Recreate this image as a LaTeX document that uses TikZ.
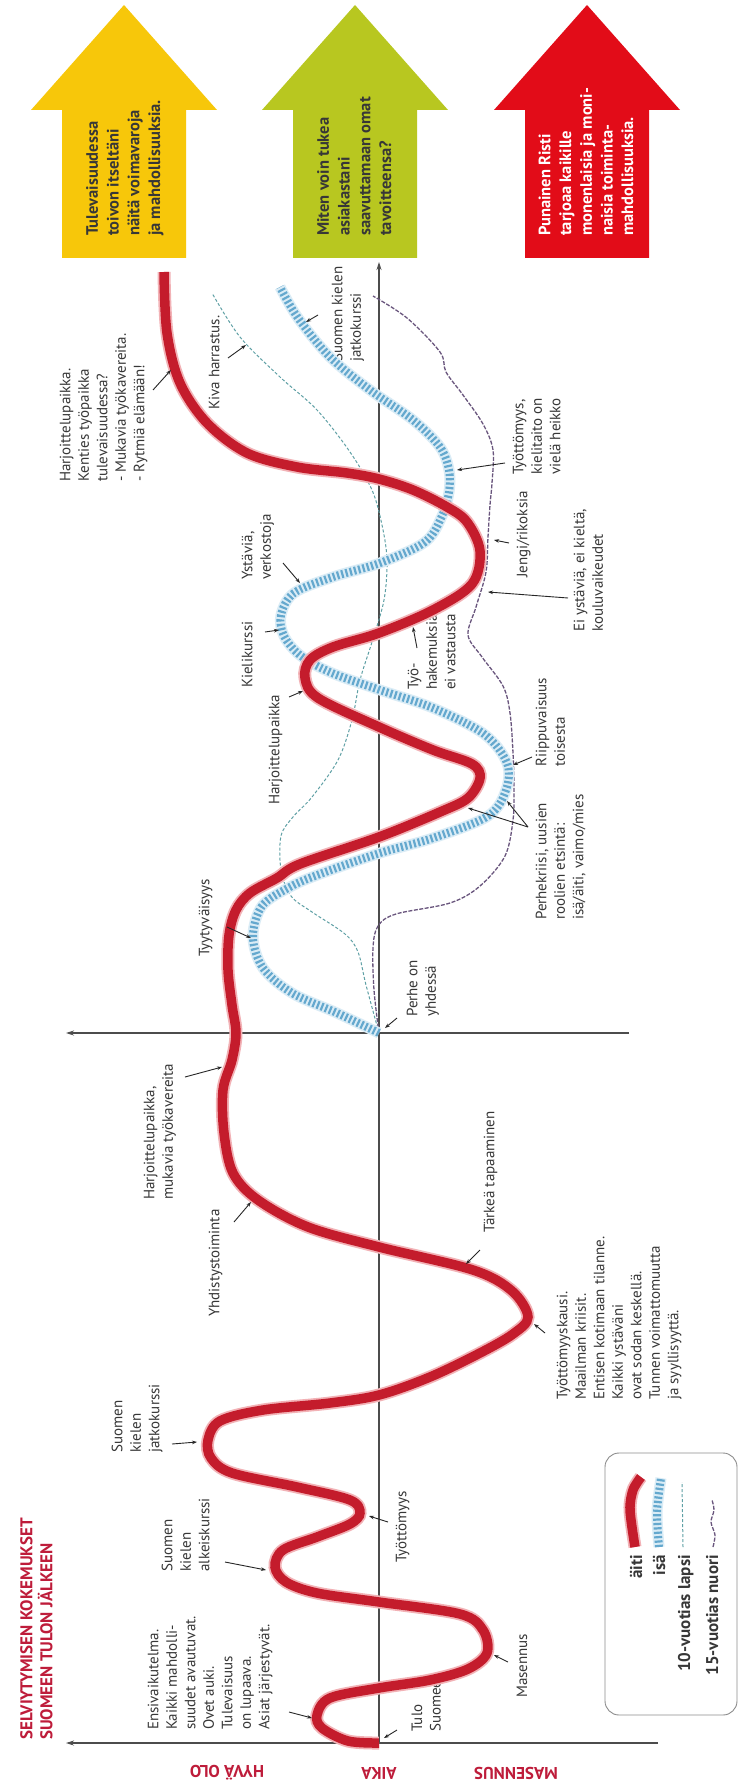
\documentclass[tikz,border=0pt]{standalone}
\usepackage{fontspec}
\setmainfont{PT Sans}
\usetikzlibrary{arrows.meta,calc}
\definecolor{curvered}{RGB}{196,28,44}
\definecolor{halored}{RGB}{242,178,182}
\definecolor{isablue}{RGB}{100,168,206}
\definecolor{halob}{RGB}{218,236,246}
\definecolor{teal10}{RGB}{95,160,165}
\definecolor{purp15}{RGB}{105,85,125}
\definecolor{arryellow}{RGB}{247,199,10}
\definecolor{arrgreen}{RGB}{184,199,32}
\definecolor{arrred}{RGB}{226,12,24}
\definecolor{crimson}{RGB}{190,28,58}
\definecolor{txt}{RGB}{55,55,55}
\newcommand\pointer[5]{\coordinate (#1s) at (#2,#3); \coordinate (#1e) at (#4,#5); \draw[ptr] (#1s) -- (#1e);}
\begin{document}
\begin{tikzpicture}[x=1pt,y=-1pt,
  lbl/.style={rotate=90,anchor=north west,align=left,inner sep=0pt,font=\fontsize{15}{18.5}\selectfont,text=txt},
  arrtxt/.style={rotate=90,anchor=north west,align=left,inner sep=0pt,font=\fontsize{16.5}{20.7}\selectfont\bfseries,text=txt},
  titletxt/.style={rotate=90,anchor=north west,align=left,inner sep=0pt,font=\fontsize{17}{20}\selectfont\bfseries,text=crimson},
  legtxt/.style={rotate=90,anchor=base east,inner sep=0pt,font=\fontsize{17}{20}\selectfont\bfseries,text=txt},
  axlbl/.style={rotate=180,anchor=center,inner sep=0pt,font=\fontsize{17}{20}\selectfont\bfseries,text=crimson},
  ptr/.style={-{Stealth[length=5pt,width=3.6pt]},line width=0.9pt,black!85},
  axline/.style={line width=1.1pt,black!70},
  axarrow/.style={axline,-{Stealth[length=8pt,width=5pt]}},
  mom/.style={line width=9.5pt,curvered,preaction={draw,halored,line width=13pt}},
  dad/.style={line width=8pt,isablue,dash pattern=on 2.2pt off 2.2pt,preaction={draw,halob,solid,line width=11pt}},
  kid/.style={line width=1pt,teal10,dash pattern=on 3pt off 2pt},
  teen/.style={line width=1.3pt,purp15,dash pattern=on 4pt off 1.5pt}
]
\useasboundingbox (0,0) rectangle (742,1784);
\fill[white] (0,0) rectangle (742,1784);

% big arrows
\fill[arryellow] (62,258) -- (62,110) -- (31,110) -- (124,5) -- (217,110) -- (186,110) -- (186,258) -- cycle;
\fill[arrgreen] (293,258) -- (293,110) -- (262,110) -- (355,5) -- (448,110) -- (417,110) -- (417,258) -- cycle;
\fill[arrred] (525,258) -- (525,110) -- (494,110) -- (587,5) -- (680,110) -- (649,110) -- (649,258) -- cycle;
\node[arrtxt] (ty) at (86,236) {Tulevaisuudessa\\toivon itseltäni\\näitä voimavaroja\\ja mahdollisuuksia.};
\node[arrtxt] (tg) at (317,236) {Miten voin tukea\\asiakastani\\saavuttamaan omat\\tavoitteensa?};
\node[arrtxt,text=white] (tr) at (538.5,236) {Punainen Risti\\tarjoaa kaikille\\monenlaisia ja moni-\\naisia toiminta-\\mahdollisuuksia.};

% title and axis labels
\node[titletxt] (title) at (20,1740) {SELVIYTYMISEN KOKEMUKSET\\SUOMEEN TULON JÄLKEEN};
\node[axlbl] (hyva) at (227,1773) {HYVÄ OLO};
\node[axlbl] (aika) at (379,1773) {AIKA};
\node[axlbl] (masl) at (516,1773) {MASENNUS};

% labels
\node[lbl] (tulo) at (411.5,1732) {Tulo\\Suomeen};
\node[lbl] (ensi) at (147.5,1730) {Ensivaikutelma.\\Kaikki mahdolli-\\suudet avautuvat.\\Ovet auki.\\Tulevaisuus\\on lupaava.\\Asiat järjestyvät.};
\node[lbl] (mas) at (516.5,1698) {Masennus};
\node[lbl] (alke) at (161.5,1572) {Suomen\\kielen\\alkeiskurssi};
\node[lbl] (tyot1) at (395.5,1563) {Työttömyys};
\node[lbl] (jatko1) at (111.5,1453) {Suomen\\kielen\\jatkokurssi};
\node[lbl] (kausi) at (556.5,1400) {Työttömyyskausi.\\Maailman kriisit.\\Entisen kotimaan tilanne.\\Kaikki ystäväni\\ovat sodan keskellä.\\Tunnen voimattomuutta\\ja syyllisyyttä.};
\node[lbl] (tark) at (483.5,1233) {Tärkeä tapaaminen};
\node[lbl] (yhd) at (208.5,1317) {Yhdistystoiminta};
\node[lbl] (harj1) at (143.5,1200) {Harjoittelupaikka,\\mukavia työkavereita};
\node[lbl] (perhe) at (406.5,1017) {Perhe on\\yhdessä};
\node[lbl] (tyyt) at (198.5,957) {Tyytyväisyys};
\node[lbl] (perhek) at (535.5,920) {Perhekriisi, uusien\\roolien etsintä:\\isä/äiti, vaimo/mies};
\node[lbl] (harj2) at (268.5,805) {Harjoittelupaikka};
\node[lbl] (riip) at (535.5,767) {Riippuvaisuus\\toisesta};
\node[lbl] (tyoh) at (407.5,690) {Työ-\\hakemuksia\\ei vastausta};
\node[lbl] (kieli) at (241.5,688) {Kielikurssi};
\node[lbl] (eiyst) at (573.5,632) {Ei ystäviä, ei kieltä,\\kouluvaikeudet};
\node[lbl] (ystav) at (241.5,580) {Ystäviä,\\verkostoja};
\node[lbl] (jengi) at (516.5,578) {Jengi/rikoksia};
\node[lbl] (tyot2) at (512.5,475) {Työttömyys,\\kielitaito on\\vielä heikko};
\node[lbl] (kiva) at (208.5,410) {Kiva harrastus.};
\node[lbl] (jatko2) at (331.5,362) {Suomen kielen\\jatkokurssi};
\node[lbl] (harj3) at (59.5,482) {Harjoittelupaikka.\\Kenties työpaikka\\tulevaisuudessa?\\- Mukavia työkavereita.\\- Rytmiä elämään!};

% axes
\coordinate (O1) at (379,1743);
\coordinate (tax) at (379,262);
\coordinate (b1r) at (658,1743);
\coordinate (b1l) at (66,1743);
\coordinate (O2) at (379,1033);
\coordinate (b2r) at (629,1033);
\coordinate (b2l) at (66,1033);
\draw[axarrow] (O1) -- (tax);
\draw[axarrow] (b1r) -- (b1l);
\draw[axarrow] (b2r) -- (b2l);

% curves
\draw[kid] plot[smooth,tension=0.55] coordinates {(379,1033) (366,985) (358,952) (345,934) (312,912) (291,896) (281,870) (281,836) (293,817) (312,797) (338,760) (352,720) (360,680) (372,642) (384,600) (387,560) (382,525) (372,490) (350,452) (317,410) (280,377) (240,337) (212,293)};
\draw[teen] plot[smooth,tension=0.55] coordinates {(379,1033) (374,990) (373,948) (378,926) (396,914) (450,903) (480,886) (505,856) (513,820) (514,790) (513,753) (510,713) (503,686) (482,657) (468,635) (476,607) (486,572) (488,537) (490,505) (492,483) (493,450) (483,424) (463,395) (446,372) (440,352) (407,318) (373,296)};
\draw[dad] plot[smooth,tension=0.55] coordinates {(379,1033) (337,1013) (292,993) (263,968) (253,937) (262,906) (290,887) (320,874) (380,853) (433,838) (488,816) (506,790) (507,763) (484,734) (433,708) (380,690) (332,673) (301,656) (284,636) (281,615) (294,593) (333,577) (380,563) (425,542) (442,516) (449,492) (449,470) (440,447) (413,420) (370,390) (330,357) (298,318) (280,287)};
\draw[mom] plot[smooth,tension=0.55] coordinates {(379,1743) (348,1741) (322,1728) (317,1715) (330,1698) (379,1688) (430,1680) (468,1669) (487,1653) (483,1630) (460,1614) (379,1602) (317,1593) (286,1582) (275,1567) (283,1550) (317,1537) (350,1524) (360,1513) (350,1500) (297,1487) (232,1473) (211,1458) (208,1440) (220,1421) (263,1410) (330,1403) (379,1395) (430,1377) (480,1353) (513,1334) (528,1317) (512,1291) (473,1270) (379,1247) (308,1227) (258,1200) (233,1173) (224,1133) (223,1090) (232,1060) (236,1033) (232,1005) (228,970) (229,935) (236,910) (250,893) (277,878) (300,864) (379,837) (440,812) (468,798) (480,778) (472,764) (433,750) (379,727) (318,698) (305,678) (310,660) (333,647) (379,633) (433,610) (472,584) (480,551) (467,522) (447,507) (413,490) (379,479) (347,473) (297,467) (247,453) (207,423) (180,383) (167,333) (164,272)};

% pointers
\pointer{p1}{397}{1730}{384}{1738}
\pointer{p2}{289}{1712}{312}{1718}
\pointer{p3}{508}{1662}{494}{1655}
\pointer{p4}{225}{1562}{266}{1570}
\pointer{p5}{388}{1522}{369}{1516}
\pointer{p6}{172}{1444}{197}{1442}
\pointer{p7}{545}{1333}{534}{1324}
\pointer{p8}{480}{1250}{466}{1264}
\pointer{p9}{234}{1222}{251}{1202}
\pointer{p10}{185}{1077}{222}{1067}
\pointer{p11}{397}{1018}{385}{1028}
\pointer{p12}{227}{927}{251}{938}
\pointer{p13}{528}{827}{468}{808}
\coordinate (p14e) at (507,801);
\draw[ptr] (p13s) -- (p14e);
\pointer{p15}{289}{697}{303}{691}
\pointer{p16}{532}{757}{513}{765}
\pointer{p17}{417}{648}{413}{627}
\pointer{p18}{265}{632}{279}{630}
\pointer{p19}{568}{598}{488}{592}
\pointer{p20}{283}{563}{300}{583}
\pointer{p21}{509}{543}{494}{540}
\pointer{p22}{505}{463}{457}{470}
\pointer{p23}{228}{358}{246}{345}
\pointer{p24}{318}{315}{306}{322}
\pointer{p25}{153}{390}{171}{370}

% legend
\draw[black!45,line width=0.9pt,rounded corners=14pt] (605,1453) rectangle (737,1715);
\draw[mom] plot[smooth] coordinates {(635,1547) (630,1510) (633,1490) (641,1477)};
\draw[dad] plot[smooth] coordinates {(659,1547) (657,1512) (661,1478)};
\draw[kid] (683,1547) -- (682,1482);
\draw[teen] plot[smooth] coordinates {(713,1547) (715,1535) (711,1522) (714,1510) (712,1500)};
\node[legtxt] (l1) at (642,1555) {äiti};
\node[legtxt] (l2) at (665,1555) {isä};
\node[legtxt] (l3) at (690,1555) {10-vuotias lapsi};
\node[legtxt] (l4) at (718,1555) {15-vuotias nuori};
\end{tikzpicture}
\end{document}
